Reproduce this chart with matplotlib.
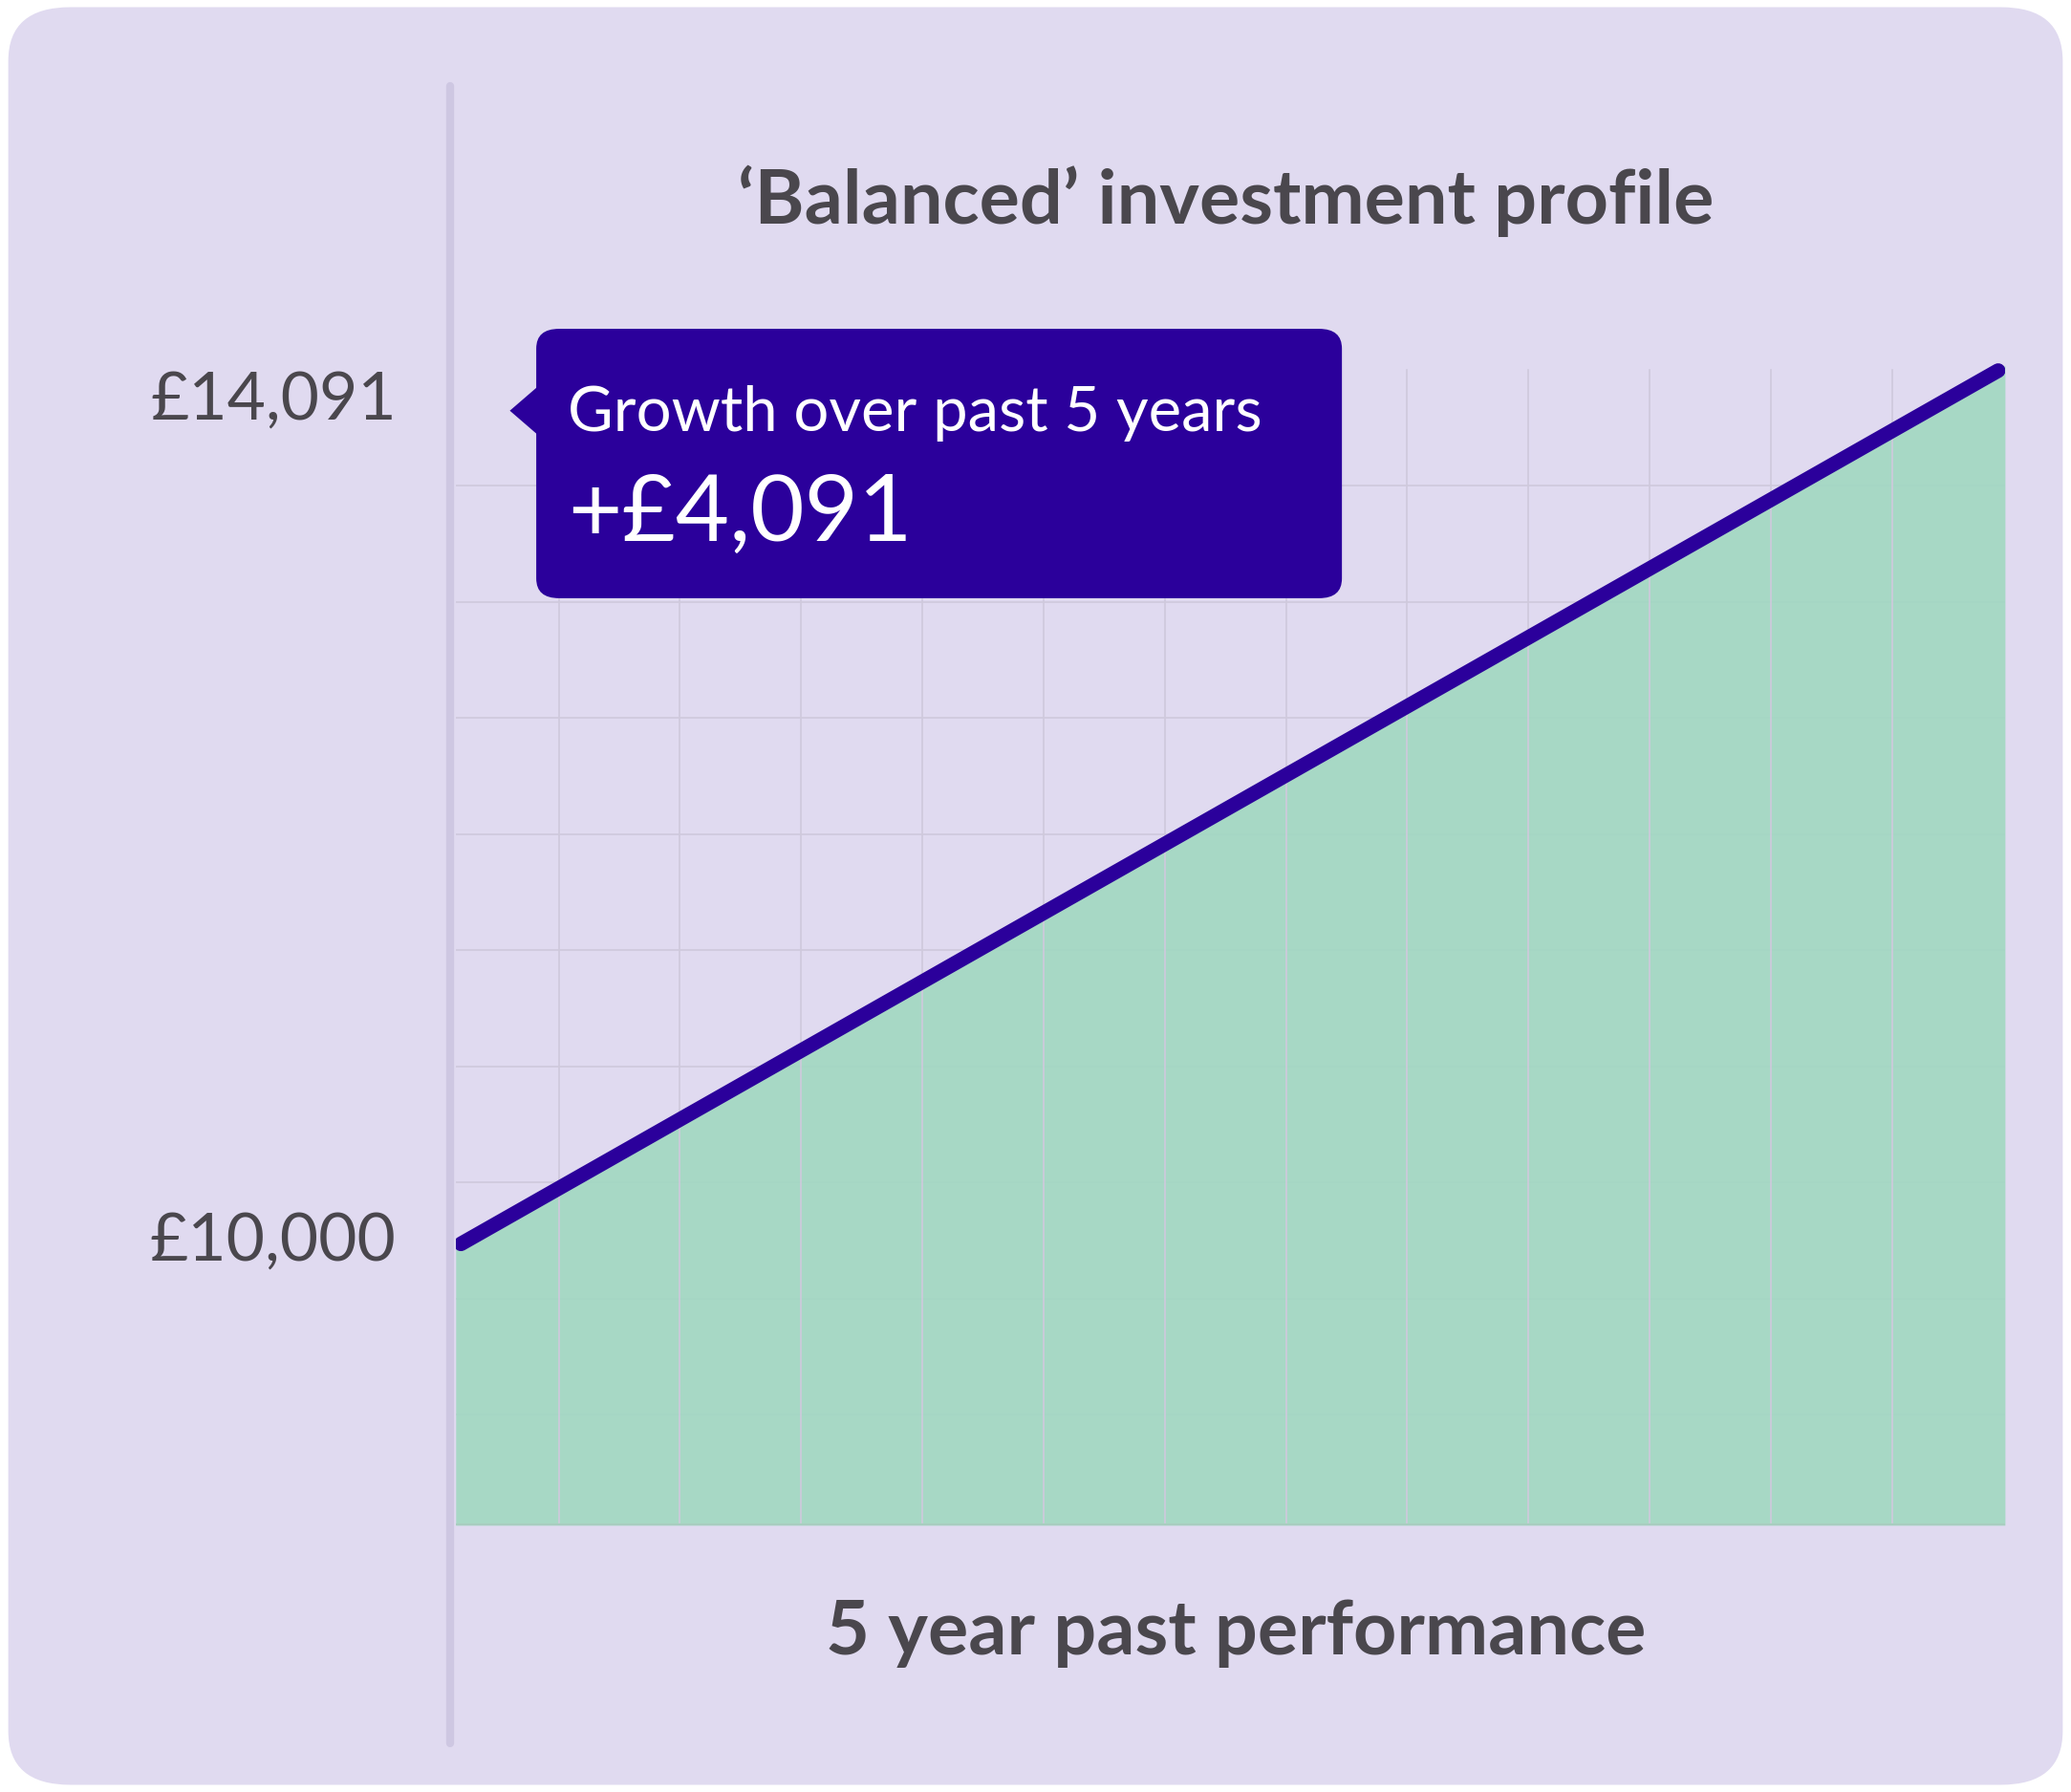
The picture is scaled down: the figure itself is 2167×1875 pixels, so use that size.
import matplotlib.pyplot as plt
import numpy as np
from matplotlib.patches import FancyBboxPatch, Polygon

# data
years = [0, 5]
values = [10000, 14091]
tick_values = [10000, 14091]
tick_labels = ['£10,000', '£14,091']
title = '‘Balanced’ investment profile'
xlabel = '5 year past performance'
tip_title = 'Growth over past 5 years'
tip_value = '+£4,091'

W, H = 1568, 1357  # reference layout units


def fx(x):
    return x / W


def fy(y):
    return 1 - y / H


fig = plt.figure(figsize=(21.67, 18.75), dpi=100)
fig.patch.set_facecolor('white')
bg = FancyBboxPatch((0.004, 0.004), 0.992, 0.992, boxstyle='round,pad=0,rounding_size=0.03',
                    transform=fig.transFigure, facecolor='#E0DAF0', edgecolor='none', zorder=-5)
fig.patches.append(bg)

# left decorative axis bar
fig.add_artist(plt.Line2D([fx(341), fx(341)], [fy(65), fy(1320)], transform=fig.transFigure,
                          color='#CEC7E2', lw=6, solid_capstyle='round', zorder=-4))

ax = fig.add_axes([fx(345), fy(1155), fx(1518) - fx(345), fy(263) - fy(1155)])
ax.set_zorder(0)
ax.set_facecolor('none')
ax.set_xlim(-0.017, 5.022)
ax.set_ylim(8682, 14200)

# grid
for gx in np.arange(423, 1518, 91.7):
    ax.axvline((gx - 349) / 1163 * 5, ymin=0, ymax=(1155 - 280) / (1155 - 263), color='#CFC9DC', lw=1.2, zorder=2)
for gy in np.arange(368, 1100, 87.9):
    ax.axhline(10000 + (942 - gy) * 4091 / 661, color='#CFC9DC', lw=1.2, zorder=0)

ax.fill_between([-0.017] + years + [5.022], [values[0] - 25] + values + [values[1] + 25], 8682,
                color='#A2D8C2', zorder=1, lw=0, alpha=0.92)
ax.plot(years, values, color='#2B009B', lw=11, solid_capstyle='round', zorder=3)
ax.axhline(8682, color='#A8CDBF', lw=3, zorder=2)

for s in ax.spines.values():
    s.set_visible(False)
ax.set_xticks([])
ax.set_yticks([])

fig.text(fx(300), fy(940), tick_labels[0], ha='right', va='center', fontsize=50,
         family='Lato', color='#4A474D')
fig.text(fx(300), fy(303), tick_labels[1], ha='right', va='center', fontsize=50,
         family='Lato', color='#4A474D')
fig.text(fx(928), fy(152), title, ha='center', va='center', fontsize=57,
         family='Lato', weight='bold', color='#4A474D')
fig.text(fx(936), fy(1237), xlabel, ha='center', va='center', fontsize=57,
         family='Lato', weight='bold', color='#4A474D')

# tooltip
tip = FancyBboxPatch((fx(406), fy(453)), fx(1016) - fx(406), fy(249) - fy(453),
                     boxstyle='round,pad=0,rounding_size=0.011', transform=fig.transFigure,
                     facecolor='#2B009B', edgecolor='none', zorder=5)
fig.patches.append(tip)
fig.patches.append(Polygon([(fx(408), fy(292)), (fx(386), fy(311)), (fx(408), fy(330))],
                           closed=True, transform=fig.transFigure, facecolor='#2B009B',
                           edgecolor='none', zorder=5))
fig.text(fx(430), fy(313), tip_title, ha='left', va='center', fontsize=47,
         family='Lato', color='white', zorder=6)
fig.text(fx(430), fy(390), tip_value, ha='left', va='center', fontsize=70,
         family='Lato', color='white', zorder=6)

fig.savefig('out.png', dpi=100, facecolor='white')
